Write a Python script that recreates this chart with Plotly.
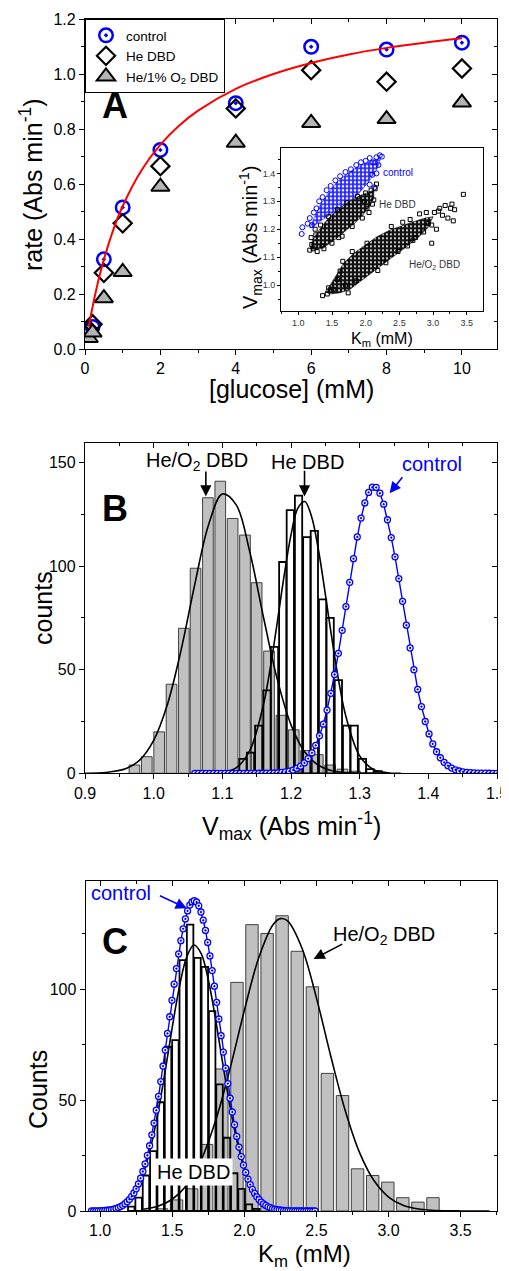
import plotly.graph_objects as go

FONT = "Liberation Sans, Arial, sans-serif"
# the page body adds an 8 px margin; the figure fills the rest of the 509x1271 window
OFF = 8
W, H = 509 - OFF, 1271 - OFF

# ---------------------------------------------------------------- Panel A data
glucose_mM = [0.1, 0.2, 0.5, 1, 2, 4, 6, 8, 10]
rate_control = [0.065, 0.08, 0.326, 0.515, 0.724, 0.894, 1.099, 1.089, 1.114]
rate_he_dbd = [0.07, 0.09, 0.277, 0.457, 0.665, 0.875, 1.014, 0.972, 1.02]
rate_he_o2_dbd = [0.04, 0.06, 0.185, 0.28, 0.59, 0.75, 0.822, 0.836, 0.896]
fit_glucose = [0.1, 0.2, 0.35, 0.5, 0.75, 1, 1.5, 2, 2.5, 3, 4, 5, 6, 7, 8, 9, 10]
fit_rate = [0.081, 0.153, 0.246, 0.325, 0.433, 0.52, 0.65, 0.743, 0.813, 0.867,
            0.946, 1.0, 1.04, 1.071, 1.095, 1.114, 1.130]

# inset: bootstrap clouds (outline of the dense core + scattered edge points)
ctrl_core_km = [1.17, 1.24, 1.32, 1.44, 1.57, 1.72, 1.86, 2.03, 2.15, 2.22, 2.19, 2.12,
                2.05, 1.94, 1.82, 1.69, 1.57, 1.44, 1.32, 1.22]
ctrl_core_v = [1.205, 1.245, 1.285, 1.328, 1.368, 1.398, 1.421, 1.440, 1.450, 1.455, 1.425, 1.400,
               1.372, 1.340, 1.310, 1.287, 1.268, 1.250, 1.228, 1.208]
ctrl_pts_km = [1.06, 1.05, 1.14, 1.17, 1.20, 1.23, 1.27, 1.31, 1.36, 1.42, 1.48, 1.55, 1.62, 1.70,
               1.78, 1.86, 1.93, 2.00, 2.06, 2.11, 2.16, 2.21, 2.24, 2.19, 2.16, 2.10, 2.06, 2.13]
ctrl_pts_v = [1.207, 1.183, 1.22, 1.24, 1.215, 1.26, 1.275, 1.30, 1.315, 1.34, 1.355, 1.375, 1.39, 1.405,
              1.415, 1.43, 1.44, 1.445, 1.455, 1.44, 1.458, 1.465, 1.46, 1.43, 1.40, 1.395, 1.36, 1.35]

he_core_km = [1.18, 1.21, 1.30, 1.42, 1.54, 1.67, 1.79, 1.91, 2.03, 2.12, 2.12, 2.06, 1.96,
              1.84, 1.69, 1.54, 1.40, 1.27]
he_core_v = [1.13, 1.16, 1.195, 1.232, 1.262, 1.285, 1.305, 1.320, 1.332, 1.340, 1.31, 1.282, 1.252,
             1.222, 1.192, 1.162, 1.138, 1.127]
he_pts_km = [1.17, 1.20, 1.19, 1.22, 1.25, 1.28, 1.33, 1.38, 1.45, 1.50, 1.58, 1.65, 1.72, 1.80,
             1.88, 1.95, 2.00, 2.05, 2.08, 2.10, 2.14, 2.16, 2.12, 2.02, 1.98, 1.60, 1.35, 1.26]
he_pts_v = [1.125, 1.145, 1.17, 1.13, 1.20, 1.12, 1.215, 1.13, 1.245, 1.15, 1.27, 1.175, 1.295, 1.21,
            1.318, 1.24, 1.33, 1.26, 1.34, 1.29, 1.345, 1.362, 1.305, 1.275, 1.30, 1.17, 1.14, 1.18]

o2_core_km = [1.40, 1.46, 1.55, 1.67, 1.82, 1.99, 2.16, 2.36, 2.56, 2.72, 2.88, 3.00, 2.92,
              2.78, 2.62, 2.44, 2.26, 2.09, 1.92, 1.77, 1.62, 1.48]
o2_core_v = [0.975, 0.995, 1.03, 1.077, 1.113, 1.143, 1.172, 1.197, 1.215, 1.228, 1.240, 1.245, 1.205,
             1.170, 1.140, 1.108, 1.073, 1.043, 1.013, 0.985, 0.972, 0.968]
o2_pts_km = [1.36, 1.43, 1.45, 1.52, 1.58, 1.62, 1.66, 1.74, 1.70, 1.80, 1.86, 2.02, 2.18, 2.30,
             2.38, 2.48, 2.55, 2.62, 2.66, 2.74, 2.80, 2.86, 2.90, 2.93, 2.98, 3.02, 3.08, 3.10,
             3.14, 3.18, 3.22, 3.26, 3.28, 3.30, 3.32, 3.45, 2.98, 3.05, 2.70]
o2_pts_v = [0.962, 0.968, 0.99, 0.985, 1.02, 1.05, 1.085, 0.972, 1.00, 1.12, 1.015, 1.15, 1.052, 1.08,
            1.21, 1.12, 1.225, 1.14, 1.235, 1.17, 1.255, 1.19, 1.26, 1.22, 1.15, 1.26, 1.265, 1.275,
            1.25, 1.285, 1.24, 1.275, 1.29, 1.23, 1.27, 1.325, 1.215, 1.20, 1.16]

# ---------------------------------------------------------------- Panel B data (Vmax)
vmax_bins_o2 = [0.972, 0.990, 1.008, 1.026, 1.044, 1.061, 1.079, 1.097, 1.115, 1.133, 1.150,
                1.168, 1.186, 1.204, 1.222, 1.239, 1.257, 1.275, 1.293]
vmax_counts_o2 = [4, 8, 20, 43, 70, 99, 133, 141, 123, 115, 92, 59, 28, 21, 11, 9, 4, 2, 1]
vmax_bins_he = [1.130, 1.141, 1.153, 1.165, 1.176, 1.188, 1.199, 1.211, 1.223, 1.234, 1.246,
                1.257, 1.269, 1.281, 1.292, 1.304, 1.315, 1.327]
vmax_counts_he = [7, 10, 23, 40, 61, 102, 127, 134, 114, 117, 84, 75, 45, 23, 23, 7, 2, 1]
vmax_fit_o2_x = [0.90, 0.93, 0.96, 0.98, 1.00, 1.02, 1.04, 1.06, 1.08, 1.10, 1.12, 1.14, 1.16,
                 1.18, 1.20, 1.22, 1.24, 1.26, 1.29, 1.34]
vmax_fit_o2_y = [0.04, 0.35, 2.27, 6.5, 15.9, 33.2, 59.6, 91.4, 120.0, 134.8, 129.7, 106.8, 75.2,
                 45.4, 23.4, 10.3, 3.9, 1.27, 0.17, 0.0]
vmax_fit_he_x = [1.08, 1.10, 1.12, 1.14, 1.16, 1.17, 1.18, 1.19, 1.20, 1.21, 1.22, 1.23, 1.24,
                 1.25, 1.26, 1.27, 1.28, 1.30, 1.32, 1.34, 1.36]
vmax_fit_he_y = [0.06, 0.45, 2.6, 11.0, 33.3, 51.3, 72.9, 95.4, 115.1, 128.0, 131.2, 123.9, 107.8,
                 86.5, 64.0, 43.6, 27.4, 8.4, 1.9, 0.3, 0.03]
vmax_ctrl_x = [1.06, 1.0655, 1.071, 1.0765, 1.082, 1.0875, 1.093, 1.0985, 1.104, 1.1095,
               1.115, 1.1205, 1.126, 1.1315, 1.137, 1.1425, 1.148, 1.1535, 1.159, 1.1645,
               1.17, 1.1755, 1.181, 1.1865, 1.192, 1.1975, 1.203, 1.2085, 1.214, 1.2195,
               1.225, 1.2305, 1.236, 1.2415, 1.247, 1.2525, 1.258, 1.2635, 1.269, 1.2745,
               1.28, 1.2855, 1.291, 1.2965, 1.302, 1.3075, 1.313, 1.3185, 1.324, 1.3295,
               1.335, 1.3405, 1.346, 1.3515, 1.357, 1.3625, 1.368, 1.3735, 1.379, 1.3845,
               1.39, 1.3955, 1.401, 1.4065, 1.412, 1.4175, 1.423, 1.4285, 1.434, 1.4395,
               1.445, 1.4505, 1.456, 1.4615, 1.467, 1.4725, 1.478, 1.4835, 1.489, 1.4945, 1.5]
vmax_ctrl_y = [0, 0, 0, 0, 0, 0, 0, 0, 0, 0,
               0, 0, 0, 0, 0, 0.01, 0.01, 0.02, 0.03, 0.05,
               0.09, 0.15, 0.25, 0.41, 0.65, 1.02, 1.56, 2.35, 3.46, 5.01,
               7.12, 9.89, 13.5, 18.1, 23.7, 30.5, 38.6, 47.7, 57.9, 69.0,
               80.5, 92.2, 103.6, 114.1, 123.2, 130.5, 135.6, 138.1, 138.0, 135.2,
               129.9, 122.4, 113.8, 104.5, 94.0, 83.0, 71.5, 60.5, 50.0, 40.5,
               32.2, 25.0, 19.0, 14.2, 10.4, 7.5, 5.3, 3.7, 2.5, 1.7,
               1.1, 0.7, 0.45, 0.28, 0.17, 0.1, 0.06, 0.04, 0.02, 0.01, 0.01]

# ---------------------------------------------------------------- Panel C data (Km)
km_bins_o2 = [1.426, 1.530, 1.635, 1.739, 1.844, 1.949, 2.053, 2.158, 2.262, 2.367, 2.472,
              2.576, 2.681, 2.785, 2.890, 2.995, 3.099, 3.204, 3.308]
km_counts_o2 = [1, 5, 10, 30, 64, 103, 129, 125, 133, 117, 101, 62, 52, 19, 16, 13, 6, 4, 6]
km_bins_he = [1.216, 1.267, 1.318, 1.369, 1.420, 1.471, 1.522, 1.573, 1.624, 1.675, 1.726,
              1.777, 1.828, 1.879, 1.930, 1.981, 2.032, 2.083]
km_counts_he = [2, 6, 16, 27, 49, 74, 77, 113, 129, 114, 110, 90, 57, 33, 17, 10, 3, 1]
km_fit_he_x = [1.20, 1.25, 1.30, 1.35, 1.40, 1.45, 1.50, 1.55, 1.60, 1.65, 1.70, 1.75, 1.80,
               1.85, 1.90, 1.95, 2.00, 2.05, 2.10, 2.15, 2.20]
km_fit_he_y = [4.9, 9.5, 17.1, 28.5, 43.9, 62.6, 82.7, 101.1, 114.3, 119.8, 116.1, 104.2, 86.6,
               66.6, 47.4, 31.3, 19.1, 10.8, 5.6, 2.7, 1.2]
km_fit_o2_x = [1.30, 1.40, 1.50, 1.60, 1.70, 1.80, 1.90, 2.00, 2.10, 2.20, 2.25, 2.30, 2.40,
               2.50, 2.60, 2.70, 2.80, 2.90, 3.00, 3.10, 3.20, 3.30, 3.40, 3.50, 3.60, 3.70]
km_fit_o2_y = [0.78, 2.1, 5.3, 11.6, 22.9, 40.5, 63.9, 90.3, 114.1, 129.1, 131.7, 130.7, 118.4,
               96.0, 69.6, 45.2, 26.2, 13.6, 6.3, 2.6, 1.0, 0.33, 0.1, 0.03, 0.01, 0.0]
km_ctrl_x = [0.94, 0.9555, 0.971, 0.9865, 1.002, 1.0175, 1.033, 1.0485, 1.064, 1.0795,
             1.095, 1.1105, 1.126, 1.1415, 1.157, 1.1725, 1.188, 1.2035, 1.219, 1.2345,
             1.25, 1.2655, 1.281, 1.2965, 1.312, 1.3275, 1.343, 1.3585, 1.374, 1.3895,
             1.405, 1.4205, 1.436, 1.4515, 1.467, 1.4825, 1.498, 1.5135, 1.529, 1.5445,
             1.56, 1.5755, 1.591, 1.6065, 1.622, 1.6375, 1.653, 1.6685, 1.684, 1.6995,
             1.715, 1.7305, 1.746, 1.7615, 1.777, 1.7925, 1.808, 1.8235, 1.839, 1.8545,
             1.87, 1.8855, 1.901, 1.9165, 1.932, 1.9475, 1.963, 1.9785, 1.994, 2.0095,
             2.025, 2.0405, 2.056, 2.0715, 2.087, 2.1025, 2.118, 2.1335, 2.149, 2.1645,
             2.18, 2.1955, 2.211, 2.2265, 2.242, 2.2575, 2.273, 2.2885, 2.304, 2.3195,
             2.335, 2.3505, 2.366, 2.3815, 2.397, 2.4125, 2.428, 2.4435, 2.459, 2.4745, 2.49]
km_ctrl_y = [0.04, 0.05, 0.07, 0.10, 0.14, 0.20, 0.27, 0.37, 0.50, 0.66,
             0.88, 1.17, 1.53, 1.99, 2.56, 3.28, 4.16, 5.24, 6.55, 8.12,
             9.99, 12.2, 14.8, 17.8, 21.2, 25.1, 29.4, 34.3, 39.6, 45.4,
             51.6, 58.3, 65.3, 72.5, 80.0, 87.5, 94.9, 102.2, 109.2, 115.8,
             121.8, 127.1, 131.6, 135.2, 137.8, 139.3, 139.8, 139.2, 137.5, 134.7,
             131.0, 126.4, 121.0, 114.9, 108.3, 101.3, 94.0, 86.5, 79.0, 71.6,
             64.4, 57.4, 50.8, 44.6, 38.9, 33.6, 28.8, 24.5, 20.7, 17.4,
             14.4, 11.9, 9.7, 7.9, 6.4, 5.1, 4.0, 3.2, 2.5, 1.9,
             1.5, 1.1, 0.85, 0.64, 0.48, 0.35, 0.26, 0.19, 0.14, 0.10,
             0.07, 0.05, 0.03, 0.02, 0.02, 0.01, 0.01, 0.01, 0, 0, 0]

# ---------------------------------------------------------------- figure
BLUE = "#0000ff"
GRAY = "#c0c0c0"
fig = go.Figure()

# Panel A
fig.add_trace(go.Scatter(x=glucose_mM, y=rate_control, mode="markers", name="control",
                         marker=dict(symbol="circle-open-dot", size=13.5, color=BLUE,
                                     line=dict(width=2.5, color=BLUE)),
                         xaxis="x", yaxis="y"))
fig.add_trace(go.Scatter(x=glucose_mM, y=rate_he_dbd, mode="markers", name="He DBD",
                         marker=dict(symbol="diamond-open", size=14, color="black",
                                     line=dict(width=2.2, color="black")),
                         xaxis="x", yaxis="y"))
fig.add_trace(go.Scatter(x=glucose_mM, y=rate_he_o2_dbd, mode="markers",
                         name="He/1% O<sub>2</sub> DBD",
                         marker=dict(symbol="triangle-up", size=16, color="#b4b4b4",
                                     line=dict(width=2, color="black")),
                         xaxis="x", yaxis="y"))
fig.add_trace(go.Scatter(x=fit_glucose, y=fit_rate, mode="lines", line_shape="spline",
                         line=dict(color="#ff0000", width=2), showlegend=False,
                         xaxis="x", yaxis="y"))
fig.add_trace(go.Scatter(x=[5], y=[0.6], mode="markers", marker=dict(opacity=0),
                         showlegend=False, hoverinfo="skip", xaxis="x2", yaxis="y2"))

# Inset clouds
def cloud(core_x, core_y, pts_x, pts_y, bg, fg, sym, col, size, solidity):
    fig.add_trace(go.Scatter(x=core_x + core_x[:1], y=core_y + core_y[:1], mode="lines",
                             fill="toself", fillcolor=bg,
                             fillpattern=dict(shape=".", bgcolor=bg, fgcolor=fg, size=4,
                                              solidity=solidity),
                             line=dict(width=0.6, color=bg), showlegend=False,
                             hoverinfo="skip", xaxis="x3", yaxis="y3"))
    fig.add_trace(go.Scatter(x=pts_x, y=pts_y, mode="markers", showlegend=False,
                             marker=dict(symbol=sym, size=size, color=col, line=dict(width=1, color=col)),
                             xaxis="x3", yaxis="y3"))

cloud(o2_core_km, o2_core_v, o2_pts_km, o2_pts_v, "#111111", "#ffffff", "square-open", "black", 4, 0.2)
cloud(ctrl_core_km, ctrl_core_v, ctrl_pts_km, ctrl_pts_v, "#2a2aff", "#ffffff", "circle-open", BLUE, 5, 0.3)
cloud(he_core_km, he_core_v, he_pts_km, he_pts_v, "#111111", "#ffffff", "square-open", "black", 4, 0.2)

# Panel B
fig.add_trace(go.Bar(x=vmax_bins_o2, y=vmax_counts_o2, width=0.0155, showlegend=False,
                     marker=dict(color=GRAY, line=dict(color="#404040", width=1)),
                     xaxis="x4", yaxis="y4"))
fig.add_trace(go.Bar(x=vmax_bins_he, y=vmax_counts_he, width=0.0106, showlegend=False,
                     marker=dict(color="rgba(0,0,0,0)", line=dict(color="black", width=1.8)),
                     xaxis="x4", yaxis="y4"))
fig.add_trace(go.Scatter(x=vmax_fit_o2_x, y=vmax_fit_o2_y, mode="lines", line_shape="spline",
                         line=dict(color="black", width=1.6), showlegend=False, xaxis="x4", yaxis="y4"))
fig.add_trace(go.Scatter(x=vmax_fit_he_x, y=vmax_fit_he_y, mode="lines", line_shape="spline",
                         line=dict(color="black", width=1.6), showlegend=False, xaxis="x4", yaxis="y4"))
fig.add_trace(go.Scatter(x=vmax_ctrl_x, y=vmax_ctrl_y, mode="lines+markers", showlegend=False,
                         line=dict(color=BLUE, width=1.4),
                         marker=dict(symbol="circle-dot", size=6, color="white",
                                     line=dict(color=BLUE, width=1.3)),
                         xaxis="x4", yaxis="y4"))
fig.add_trace(go.Scatter(x=[1.2], y=[80], mode="markers", marker=dict(opacity=0),
                         showlegend=False, hoverinfo="skip", xaxis="x5", yaxis="y5"))

# Panel C
fig.add_trace(go.Bar(x=km_bins_o2, y=km_counts_o2, width=0.086, showlegend=False,
                     marker=dict(color=GRAY, line=dict(color="#404040", width=1)),
                     xaxis="x6", yaxis="y6"))
fig.add_trace(go.Bar(x=km_bins_he, y=km_counts_he, width=0.045, showlegend=False,
                     marker=dict(color="rgba(0,0,0,0)", line=dict(color="black", width=1.8)),
                     xaxis="x6", yaxis="y6"))
fig.add_trace(go.Scatter(x=km_fit_o2_x, y=km_fit_o2_y, mode="lines", line_shape="spline",
                         line=dict(color="black", width=1.6), showlegend=False, xaxis="x6", yaxis="y6"))
fig.add_trace(go.Scatter(x=km_fit_he_x, y=km_fit_he_y, mode="lines", line_shape="spline",
                         line=dict(color="black", width=1.6), showlegend=False, xaxis="x6", yaxis="y6"))
fig.add_trace(go.Scatter(x=km_ctrl_x, y=km_ctrl_y, mode="lines+markers", showlegend=False,
                         line=dict(color=BLUE, width=1.4),
                         marker=dict(symbol="circle-dot", size=6, color="white",
                                     line=dict(color=BLUE, width=1.3)),
                         xaxis="x6", yaxis="y6"))
fig.add_trace(go.Scatter(x=[2.0], y=[80], mode="markers", marker=dict(opacity=0),
                         showlegend=False, hoverinfo="skip", xaxis="x7", yaxis="y7"))

# ---------------------------------------------------------------- axes
def PX(px):   # window x-pixel -> paper fraction
    return (px - OFF) / W

def PY(py):   # window y-pixel -> paper fraction
    return 1 - (py - OFF) / H

def px_x(a, b):
    return [PX(a), PX(b)]

def px_y(top, bottom):
    return [PY(bottom), PY(top)]

def main_ax(**kw):
    d = dict(showgrid=False, zeroline=False, showline=True, linecolor="black", linewidth=1.3,
             ticks="outside", ticklen=5, tickwidth=1.2, tickcolor="black", automargin=False,
             tickfont=dict(family=FONT, size=16, color="black"))
    d.update(kw)
    return d

def mirror_ax(**kw):
    d = dict(showgrid=False, zeroline=False, showline=True, linecolor="black", linewidth=1.3,
             ticks="inside", ticklen=5, tickwidth=1.2, tickcolor="black", showticklabels=False,
             automargin=False)
    d.update(kw)
    return d

def minor(dt, inside=False, ln=3):
    return dict(dtick=dt, ticks="inside" if inside else "outside", ticklen=ln,
                tickwidth=1.2, tickcolor="black")

dA_x, dA_y = px_x(85, 497), px_y(19, 349)
dI_x, dI_y = px_x(281, 482.7), px_y(148.3, 311)
dB_x, dB_y = px_x(85, 497), px_y(443.3, 773.3)
dC_x, dC_y = px_x(85.7, 496.7), px_y(880.7, 1211)

rA_x, rA_y = [0, 10.93], [0, 1.2]
rB_x, rB_y = [0.9, 1.5], [0, 159.3]
rC_x, rC_y = [0.9, 3.75], [0, 148.8]

layout = dict(
    xaxis=main_ax(domain=dA_x, range=rA_x, anchor="y", tick0=0, dtick=2, minor=minor(1)),
    yaxis=main_ax(domain=dA_y, range=rA_y, anchor="x", tick0=0, dtick=0.2, tickformat=".1f",
                  minor=minor(0.1)),
    xaxis2=mirror_ax(overlaying="x", side="top", anchor="y2", range=rA_x, tick0=0, dtick=2,
                     minor=minor(1, True)),
    yaxis2=mirror_ax(overlaying="y", side="right", anchor="x2", range=rA_y, tick0=0, dtick=0.2,
                     minor=minor(0.1, True)),
    xaxis3=main_ax(domain=dI_x, range=[0.743, 3.737], anchor="y3", tick0=1.0, dtick=0.5,
                   tickformat=".1f", ticklen=3, tickwidth=1, linewidth=1, mirror=True,
                   tickfont=dict(family=FONT, size=9, color="#333333"), minor=minor(0.25, ln=2)),
    yaxis3=main_ax(domain=dI_y, range=[0.907, 1.49], anchor="x3", tick0=1.0, dtick=0.1,
                   tickformat=".1f", ticklen=3, tickwidth=1, linewidth=1, mirror=True,
                   tickfont=dict(family=FONT, size=9, color="#333333"), minor=minor(0.05, ln=2)),
    xaxis4=main_ax(domain=dB_x, range=rB_x, anchor="y4", tick0=0.9, dtick=0.1, tickformat=".1f",
                   minor=minor(0.05)),
    yaxis4=main_ax(domain=dB_y, range=rB_y, anchor="x4", tick0=0, dtick=50, minor=minor(25)),
    xaxis5=mirror_ax(overlaying="x4", side="top", anchor="y5", range=rB_x, tick0=0.9, dtick=0.1,
                     minor=minor(0.05, True)),
    yaxis5=mirror_ax(overlaying="y4", side="right", anchor="x5", range=rB_y, tick0=0, dtick=50,
                     minor=minor(25, True)),
    xaxis6=main_ax(domain=dC_x, range=rC_x, anchor="y6", tick0=1.0, dtick=0.5, tickformat=".1f",
                   minor=minor(0.25)),
    yaxis6=main_ax(domain=dC_y, range=rC_y, anchor="x6", tick0=0, dtick=50, minor=minor(25)),
    xaxis7=mirror_ax(overlaying="x6", side="top", anchor="y7", range=rC_x, tick0=1.0, dtick=0.5,
                     minor=minor(0.25, True)),
    yaxis7=mirror_ax(overlaying="y6", side="right", anchor="x7", range=rC_y, tick0=0, dtick=50,
                     minor=minor(25, True)),
)

# ---------------------------------------------------------------- annotations
def txt(text, x, y, xref="paper", yref="paper", size=20, color="black", angle=0,
        xanchor="center", yanchor="middle", **kw):
    if xref == "paper":
        x = PX(x)
    if yref == "paper":
        y = PY(y)
    return dict(text=text, x=x, y=y, xref=xref, yref=yref, showarrow=False, textangle=angle,
                xanchor=xanchor, yanchor=yanchor,
                font=dict(family=FONT, size=size, color=color), **kw)

def arrow(x, y, ax, ay, xref, yref, color="black"):
    return dict(text="", x=x, y=y, ax=ax, ay=ay, xref=xref, yref=yref, axref=xref, ayref=yref,
                showarrow=True, arrowhead=2, arrowsize=1.4, arrowwidth=1.6, arrowcolor=color,
                standoff=0, startstandoff=0)

annotations = [
    # axis titles (positions in window pixels)
    txt("rate (Abs min<sup>-1</sup>)", 31, 185, size=25, angle=-90),
    txt("[glucose] (mM)", 291, 389, size=25),
    txt("counts", 43, 608, size=25, angle=-90),
    txt("V<sub>max</sub> (Abs min<sup>-1</sup>)", 291, 826, size=25),
    txt("Counts", 38, 1090, size=25, angle=-90),
    txt("K<sub>m</sub> (mM)", 304, 1238, size=24, yanchor="top"),
    # inset titles
    txt("K<sub>m</sub> (mM)", 382, 339, size=16),
    txt("V<sub>max</sub> (Abs min<sup>-1</sup>)", 250, 238, size=20, angle=-90),
    # panel letters
    txt("<b>A</b>", 0.8, 0.887, "x", "y", size=36),
    txt("<b>B</b>", 0.9434, 128, "x4", "y4", size=36),
    txt("<b>C</b>", 1.104, 121.3, "x6", "y6", size=36),
    # inset labels
    txt("control", 2.484, 1.4025, "x3", "y3", size=10, color=BLUE),
    txt("He DBD", 2.475, 1.289, "x3", "y3", size=10, color="#333333"),
    txt("He/O<sub>2</sub> DBD", 3.024, 1.072, "x3", "y3", size=10, color="#333333"),
    # panel B labels
    txt("He/O<sub>2</sub> DBD", 1.0628, 150.5, "x4", "y4"),
    arrow(1.076, 133.6, 1.076, 146.4, "x4", "y4"),
    txt("He DBD", 1.224, 150.5, "x4", "y4"),
    arrow(1.2197, 133.6, 1.2197, 146.8, "x4", "y4"),
    txt("control", 1.406, 149.2, "x4", "y4", color=BLUE),
    arrow(1.3436, 135.2, 1.364, 143.6, "x4", "y4", color=BLUE),
    # panel C labels
    txt("control", 1.144, 143.1, "x6", "y6", color=BLUE),
    arrow(1.601, 136.4, 1.404, 142.3, "x6", "y6", color=BLUE),
    txt("He/O<sub>2</sub> DBD", 2.967, 124.0, "x6", "y6"),
    arrow(2.48, 113.5, 2.689, 120.6, "x6", "y6"),
    txt("He DBD", 1.647, 17.7, "x6", "y6", bgcolor="white", borderpad=2),
]

fig.update_layout(
    **layout,
    template="none",
    annotations=annotations,
    width=W, height=H, autosize=False,
    margin=dict(l=0, r=0, t=0, b=0, pad=0),
    paper_bgcolor="white", plot_bgcolor="white",
    barmode="overlay",
    font=dict(family=FONT, size=16, color="black"),
    legend=dict(x=PX(85), y=PY(19), xanchor="left", yanchor="top",
                bgcolor="white", bordercolor="black", borderwidth=1,
                font=dict(family=FONT, size=13.5, color="black"),
                tracegroupgap=0, itemsizing="trace"),
    showlegend=True,
)

fig.write_html("out.html")
